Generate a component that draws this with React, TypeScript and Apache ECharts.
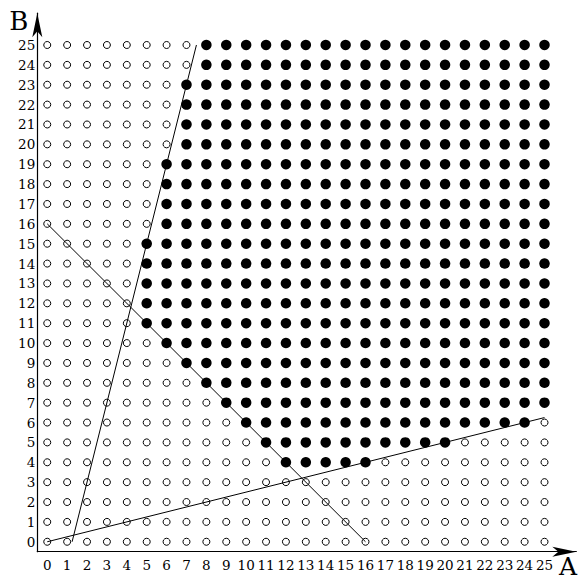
import React, { useEffect, useRef } from "react";
import * as echarts from "echarts";

// tick labels on both axes
const aTicks = [0, 1, 2, 3, 4, 5, 6, 7, 8, 9, 10, 11, 12, 13, 14, 15, 16, 17, 18, 19, 20, 21, 22, 23, 24, 25];
const bTicks = [0, 1, 2, 3, 4, 5, 6, 7, 8, 9, 10, 11, 12, 13, 14, 15, 16, 17, 18, 19, 20, 21, 22, 23, 24, 25];

// filled points: for each row B (index), first and last A that is filled (null = none)
const filledFrom = [null, null, null, null, 12, 11, 10, 9, 8, 7, 6, 5, 5, 5, 5, 5, 6, 6, 6, 6, 7, 7, 7, 7, 8, 8];
const filledTo = [null, null, null, null, 16, 20, 24, 25, 25, 25, 25, 25, 25, 25, 25, 25, 25, 25, 25, 25, 25, 25, 25, 25, 25, 25];

// the three boundary lines (endpoints in data units)
const lineSteep = [[1.25, 0], [7.5, 25]];
const lineFalling = [[0, 16], [16, 0]];
const lineFlat = [[0, 0], [25, 6.25]];

const filledPoints: number[][] = [];
const openPoints: number[][] = [];
bTicks.forEach((b) => {
  aTicks.forEach((a) => {
    const from = filledFrom[b];
    const to = filledTo[b];
    if (from !== null && to !== null && a >= from && a <= to) filledPoints.push([a, b]);
    else openPoints.push([a, b]);
  });
});

const labelFont = "DejaVu Serif";

export default function App() {
  const ref = useRef<HTMLDivElement>(null);
  useEffect(() => {
    if (!ref.current) return;
    const chart = echarts.init(ref.current, undefined, { renderer: "svg" });
    const axisLine = {
      show: true,
      onZero: false,
      symbol: ["none", "arrow"],
      symbolSize: [7.5, 24],
      lineStyle: { color: "#000", width: 1.2 },
    };
    const lineSeries = (data: number[][]) => ({
      type: "line",
      data,
      showSymbol: false,
      symbol: "none",
      silent: true,
      z: 5,
      lineStyle: { color: "#000", width: 1 },
    });
    chart.setOption({
      animation: false,
      backgroundColor: "#fff",
      grid: { left: 37.3, top: 13.2, width: 539.8, height: 538.5 },
      xAxis: {
        type: "value",
        min: -0.5,
        max: 26.6,
        name: "A",
        nameLocation: "end",
        nameGap: -9.6,
        nameTextStyle: {
          fontFamily: labelFont,
          fontSize: 25,
          lineHeight: 20,
          color: "#000",
          align: "center",
          verticalAlign: "top",
          padding: [5, 0, 0, 0],
        },
        axisLine,
        axisTick: { show: false },
        splitLine: { show: false },
        axisLabel: {
          customValues: aTicks,
          margin: 6,
          color: "#000",
          fontFamily: labelFont,
          fontSize: 13.5,
        },
      },
      yAxis: {
        type: "value",
        min: -0.5,
        max: 26.6,
        name: "B",
        nameLocation: "end",
        nameGap: -8,
        nameTextStyle: {
          fontFamily: labelFont,
          fontSize: 26,
          lineHeight: 20,
          color: "#000",
          align: "right",
          verticalAlign: "middle",
          padding: [0, 9, 0, 0],
        },
        axisLine,
        axisTick: { show: false },
        splitLine: { show: false },
        axisLabel: {
          customValues: bTicks,
          margin: 2,
          color: "#000",
          fontFamily: labelFont,
          fontSize: 13.5,
        },
      },
      series: [
        {
          type: "scatter",
          data: openPoints,
          symbol: "circle",
          symbolSize: 7,
          z: 2,
          itemStyle: { color: "#fff", borderColor: "#000", borderWidth: 1, opacity: 1 },
        },
        {
          type: "scatter",
          data: filledPoints,
          symbol: "circle",
          symbolSize: 10.5,
          z: 3,
          itemStyle: { color: "#000", opacity: 1 },
        },
        lineSeries(lineSteep),
        lineSeries(lineFalling),
        lineSeries(lineFlat),
      ],
    });
    return () => chart.dispose();
  }, []);
  return (
    <div
      ref={ref}
      style={{ position: "absolute", left: 0, top: 0, width: 580, height: 583 }}
    />
  );
}
